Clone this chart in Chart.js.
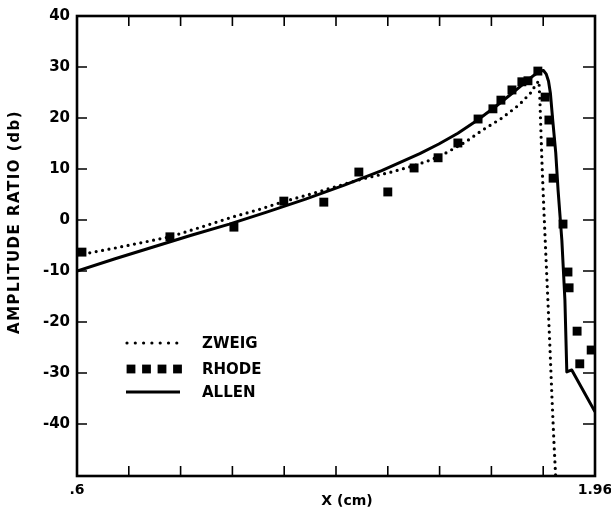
<!DOCTYPE html>
<html>
<head>
<meta charset="utf-8">
<script src="https://cdn.jsdelivr.net/npm/chart.js@4/dist/chart.umd.min.js"></script>
<style>
html,body{margin:0;padding:0;background:#fff;}
#wrap{width:611px;height:508px;position:relative;}
</style>
</head>
<body>
<div id="wrap"><canvas id="c" width="611" height="508"></canvas></div>
<script>
// ---- data ----
const seriesNames = ['ZWEIG', 'RHODE', 'ALLEN'];

const zweigX = [0.600, 0.700, 0.844, 0.930, 1.009, 1.080, 1.142, 1.200, 1.255, 1.342, 1.420, 1.483, 1.530, 1.570, 1.620, 1.664, 1.716, 1.761, 1.792, 1.805, 1.8128, 1.8154, 1.8206, 1.8259, 1.8311, 1.8364, 1.8416, 1.8469, 1.8521, 1.8567];
const zweigY = [-6.9, -5.5, -3.3, -1.3, 0.6, 2.1, 3.6, 4.8, 6.0, 7.9, 9.3, 10.6, 11.8, 13.2, 15.3, 17.6, 20.0, 22.6, 25.0, 26.6, 27.3, 23.4, 11.6, 1.8, -7.1, -15.9, -24.8, -34.6, -43.4, -50.3];

const rhodeX = [0.613, 0.844, 1.012, 1.143, 1.248, 1.340, 1.416, 1.485, 1.548, 1.600, 1.653, 1.692, 1.713, 1.742, 1.768, 1.784, 1.810, 1.829, 1.839, 1.844, 1.850, 1.876, 1.889, 1.892, 1.913, 1.920, 1.950];
const rhodeY = [-6.3, -3.3, -1.4, 3.7, 3.5, 9.4, 5.5, 10.2, 12.2, 15.1, 19.8, 21.8, 23.5, 25.5, 27.1, 27.3, 29.2, 24.1, 19.6, 15.3, 8.2, -0.8, -10.2, -13.3, -21.8, -28.2, -25.5];

const allenX = [0.600, 0.700, 0.800, 0.900, 1.000, 1.100, 1.200, 1.300, 1.400, 1.500, 1.550, 1.600, 1.650, 1.700, 1.750, 1.780, 1.800, 1.815, 1.825, 1.832, 1.838, 1.843, 1.849, 1.857, 1.863, 1.873, 1.881, 1.886, 1.899, 1.960];
const allenY = [-10.0, -7.6, -5.3, -3.0, -0.8, 1.6, 4.1, 6.8, 9.7, 13.0, 14.9, 17.0, 19.5, 22.3, 25.3, 27.2, 28.4, 29.2, 29.3, 28.6, 27.2, 24.8, 19.6, 13.1, 5.9, -4.0, -15.7, -29.8, -29.4, -37.6];

const xTickValues = [0.6, 0.736, 0.872, 1.008, 1.144, 1.28, 1.416, 1.552, 1.688, 1.824, 1.96];
const xTickLabels = ['.6', '', '', '', '', '', '', '', '', '', '1.96'];
const yTickValues = [-40, -30, -20, -10, 0, 10, 20, 30, 40];
const yTickLabels = ['-40', '-30', '-20', '-10', '0', '10', '20', '30', '40'];

const xTitle = 'X (cm)';
const yTitle = 'AMPLITUDE RATIO (db)';

// ---- build ----
const pts = (xs, ys) => xs.map((x, i) => ({x: x, y: ys[i]}));
const FONT = '"DejaVu Sans", sans-serif';

const framePlugin = {
  id: 'frame',
  afterDatasetsDraw(chart) {
    const ctx = chart.ctx;
    const a = chart.chartArea;
    const xs = chart.scales.x, ys = chart.scales.y;
    ctx.save();
    ctx.strokeStyle = '#000';
    ctx.lineWidth = 2.6;
    ctx.strokeRect(a.left, a.top, a.right - a.left, a.bottom - a.top);
    ctx.lineWidth = 1.6;
    ctx.beginPath();
    xTickValues.forEach(v => {
      const p = xs.getPixelForValue(v);
      if (p <= a.left + 2 || p >= a.right - 2) return;
      ctx.moveTo(p, a.bottom); ctx.lineTo(p, a.bottom - 10);
      ctx.moveTo(p, a.top); ctx.lineTo(p, a.top + 10);
    });
    yTickValues.forEach(v => {
      const p = ys.getPixelForValue(v);
      if (p <= a.top + 2 || p >= a.bottom - 2) return;
      ctx.moveTo(a.left, p); ctx.lineTo(a.left + 10, p);
      ctx.moveTo(a.right, p); ctx.lineTo(a.right - 12, p);
    });
    ctx.stroke();

    // legend
    const ds = chart.data.datasets;
    const lx0 = 127, lx1 = 179, tx = 202;
    const rows = [343, 369, 392];
    ctx.fillStyle = '#000';
    ctx.font = 'bold 15px ' + FONT;
    ctx.textBaseline = 'middle';
    ctx.textAlign = 'left';
    ctx.save();
    ctx.lineWidth = 3.2; ctx.lineCap = 'round';
    ctx.setLineDash([0, 8.3]);
    ctx.beginPath(); ctx.moveTo(lx0, rows[0]); ctx.lineTo(lx1, rows[0]); ctx.stroke();
    ctx.restore();
    [131, 146.5, 162, 177.5].forEach(cx => ctx.fillRect(cx - 4.4, rows[1] - 4.4, 8.8, 8.8));
    ctx.save();
    ctx.lineWidth = 3; ctx.setLineDash([]);
    ctx.beginPath(); ctx.moveTo(lx0 - 1, rows[2]); ctx.lineTo(lx1 + 1, rows[2]); ctx.stroke();
    ctx.restore();
    ds.forEach((d, i) => ctx.fillText(d.label, tx, rows[i] + 1));

    // axis titles
    ctx.font = 'bold 14px ' + FONT;
    ctx.textAlign = 'center';
    ctx.fillText(xTitle, 347, 501);
    ctx.save();
    ctx.translate(15, 222);
    ctx.rotate(-Math.PI / 2);
    ctx.font = 'bold 15px ' + FONT;
    try { ctx.letterSpacing = '1.5px'; } catch (e) {}
    ctx.fillText(yTitle, 0, 0);
    ctx.restore();
    ctx.restore();
  }
};

new Chart(document.getElementById('c'), {
  type: 'scatter',
  data: {
    datasets: [
      {
        label: seriesNames[0], data: pts(zweigX, zweigY), showLine: true,
        borderColor: '#000', borderWidth: 3.2, borderDash: [0, 6.5], borderCapStyle: 'round',
        pointRadius: 0, tension: 0, fill: false
      },
      {
        label: seriesNames[1], data: pts(rhodeX, rhodeY), showLine: false,
        pointStyle: 'rect', pointRadius: 6.3, backgroundColor: '#000', borderWidth: 0, borderColor: '#000'
      },
      {
        label: seriesNames[2], data: pts(allenX, allenY), showLine: true,
        borderColor: '#000', borderWidth: 3, pointRadius: 0, tension: 0, borderJoinStyle: 'round', fill: false
      }
    ]
  },
  options: {
    responsive: false,
    animation: false,
    devicePixelRatio: 1,
    layout: {padding: {left: 0, right: 16, top: 16, bottom: 0}},
    plugins: {legend: {display: false}, tooltip: {enabled: false}},
    scales: {
      x: {
        type: 'linear', min: 0.6, max: 1.96,
        afterBuildTicks: s => { s.ticks = xTickValues.map(v => ({value: v})); },
        afterFit: s => { s.height = 32; s.paddingLeft = 0; s.paddingRight = 0; },
        ticks: {
          callback: (v, i) => xTickLabels[i],
          autoSkip: false, maxRotation: 0, minRotation: 0, padding: 6,
          color: '#000', font: {family: FONT, size: 14, weight: 'bold'}
        },
        grid: {display: false, drawTicks: false},
        border: {display: false}
      },
      y: {
        type: 'linear', min: -50.2, max: 40,
        afterBuildTicks: s => { s.ticks = yTickValues.map(v => ({value: v})); },
        afterFit: s => { s.width = 77; s.paddingTop = 0; s.paddingBottom = 0; },
        ticks: {
          callback: (v, i) => yTickLabels[i],
          padding: 7, color: '#000', font: {family: FONT, size: 15, weight: 'bold'}
        },
        grid: {display: false, drawTicks: false},
        border: {display: false}
      }
    }
  },
  plugins: [framePlugin]
});
</script>
</body>
</html>
